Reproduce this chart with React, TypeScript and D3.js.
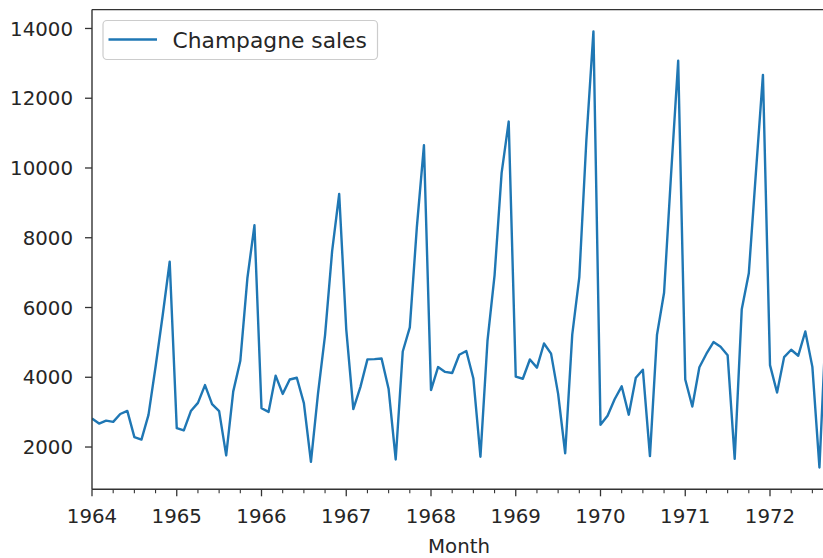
import React from "react";
import * as d3 from "d3";

const START_YEAR = 1964;
const sales: number[] = [
  2815, 2672, 2755, 2721, 2946, 3036, 2282, 2212, 2922, 4301, 5764, 7312,
  2541, 2475, 3031, 3266, 3776, 3230, 3028, 1759, 3595, 4474, 6838, 8357,
  3113, 3006, 4047, 3523, 3937, 3986, 3260, 1573, 3528, 5211, 7614, 9254,
  5375, 3088, 3718, 4514, 4520, 4539, 3663, 1643, 4739, 5428, 8314, 10651,
  3633, 4292, 4154, 4121, 4647, 4753, 3965, 1723, 5048, 6922, 9858, 11331,
  4016, 3957, 4510, 4276, 4968, 4677, 3523, 1821, 5222, 6872, 10803, 13916,
  2639, 2899, 3370, 3740, 2927, 3986, 4217, 1738, 5221, 6424, 9842, 13076,
  3934, 3162, 4286, 4676, 5010, 4874, 4633, 1659, 5951, 6981, 9851, 12670,
  4348, 3564, 4577, 4788, 4618, 5312, 4298, 1413, 5877,
];
const yearTicks: string[] = ["1964", "1965", "1966", "1967", "1968", "1969", "1970", "1971", "1972"];
const yTicks: number[] = [2000, 4000, 6000, 8000, 10000, 12000, 14000];
const seriesName = "Champagne sales";

const W = 823;
const H = 558;
const FONT = "DejaVu Sans, sans-serif";
const TEXT = "#262626";
const SPINE = "#333";
const LINE = "#1f77b4";

export default function App() {
  const n = sales.length;
  const left = 92;
  const right = 826.5;
  const top = 9.6;
  const bottom = 489.3;
  const x = d3.scaleLinear().domain([0, n - 1]).range([left, right]);
  const ymin = d3.min(sales)!;
  const ymax = d3.max(sales)!;
  const pad = (ymax - ymin) * 0.05;
  const y = d3.scaleLinear().domain([ymin - pad, ymax + pad]).range([bottom, top]);
  const line = d3
    .line<number>()
    .x((_, i) => x(i))
    .y((d) => y(d));

  const minorIdx = d3.range(0, n, 3).filter((i) => i % 12 !== 0);

  return (
    <svg
      width={W}
      height={H}
      style={{ position: "absolute", left: 0, top: 0, overflow: "hidden", background: "#fff" }}
      fontFamily={FONT}
    >
      <defs>
        <clipPath id="plot">
          <rect x={left} y={top} width={right - left} height={bottom - top} />
        </clipPath>
      </defs>
      <path d={line(sales) ?? ""} fill="none" stroke={LINE} strokeWidth={2.4} strokeLinejoin="round" clipPath="url(#plot)" />

      {/* spines */}
      <line x1={left} x2={left} y1={top} y2={bottom} stroke={SPINE} strokeWidth={1.4} />
      <line x1={left} x2={right} y1={bottom} y2={bottom} stroke={SPINE} strokeWidth={1.4} />
      <line x1={left} x2={right} y1={top} y2={top} stroke={SPINE} strokeWidth={1.4} />
      <line x1={right} x2={right} y1={top} y2={bottom} stroke={SPINE} strokeWidth={1.4} />

      {/* y ticks */}
      {yTicks.map((t) => (
        <g key={t}>
          <line x1={left - 7} x2={left} y1={y(t)} y2={y(t)} stroke={SPINE} strokeWidth={1.3} />
          <text x={73} y={y(t)} dy="0.36em" textAnchor="end" fontSize={19.8} fill={TEXT}>
            {t}
          </text>
        </g>
      ))}

      {/* x ticks */}
      {yearTicks.map((lab, k) => {
        const i = k * 12;
        return (
          <g key={lab}>
            <line x1={x(i)} x2={x(i)} y1={bottom} y2={bottom + 7} stroke={SPINE} strokeWidth={1.3} />
            <text x={x(i)} y={523} textAnchor="middle" fontSize={19.8} fill={TEXT}>
              {lab}
            </text>
          </g>
        );
      })}
      {minorIdx.map((i) => (
        <line key={i} x1={x(i)} x2={x(i)} y1={bottom} y2={bottom + 4} stroke={SPINE} strokeWidth={1.1} />
      ))}
      <text x={459} y={553} textAnchor="middle" fontSize={19.8} fill={TEXT}>
        Month
      </text>

      {/* legend */}
      <rect x={103} y={20.5} width={274.5} height={39} rx={4} fill="#fff" fillOpacity={0.8} stroke="#ccc" strokeWidth={1.2} />
      <line x1={108.5} x2={157} y1={39.5} y2={39.5} stroke={LINE} strokeWidth={2.4} />
      <text x={172.5} y={47.5} fontSize={21.8} fill={TEXT}>
        {seriesName}
      </text>
    </svg>
  );
}
